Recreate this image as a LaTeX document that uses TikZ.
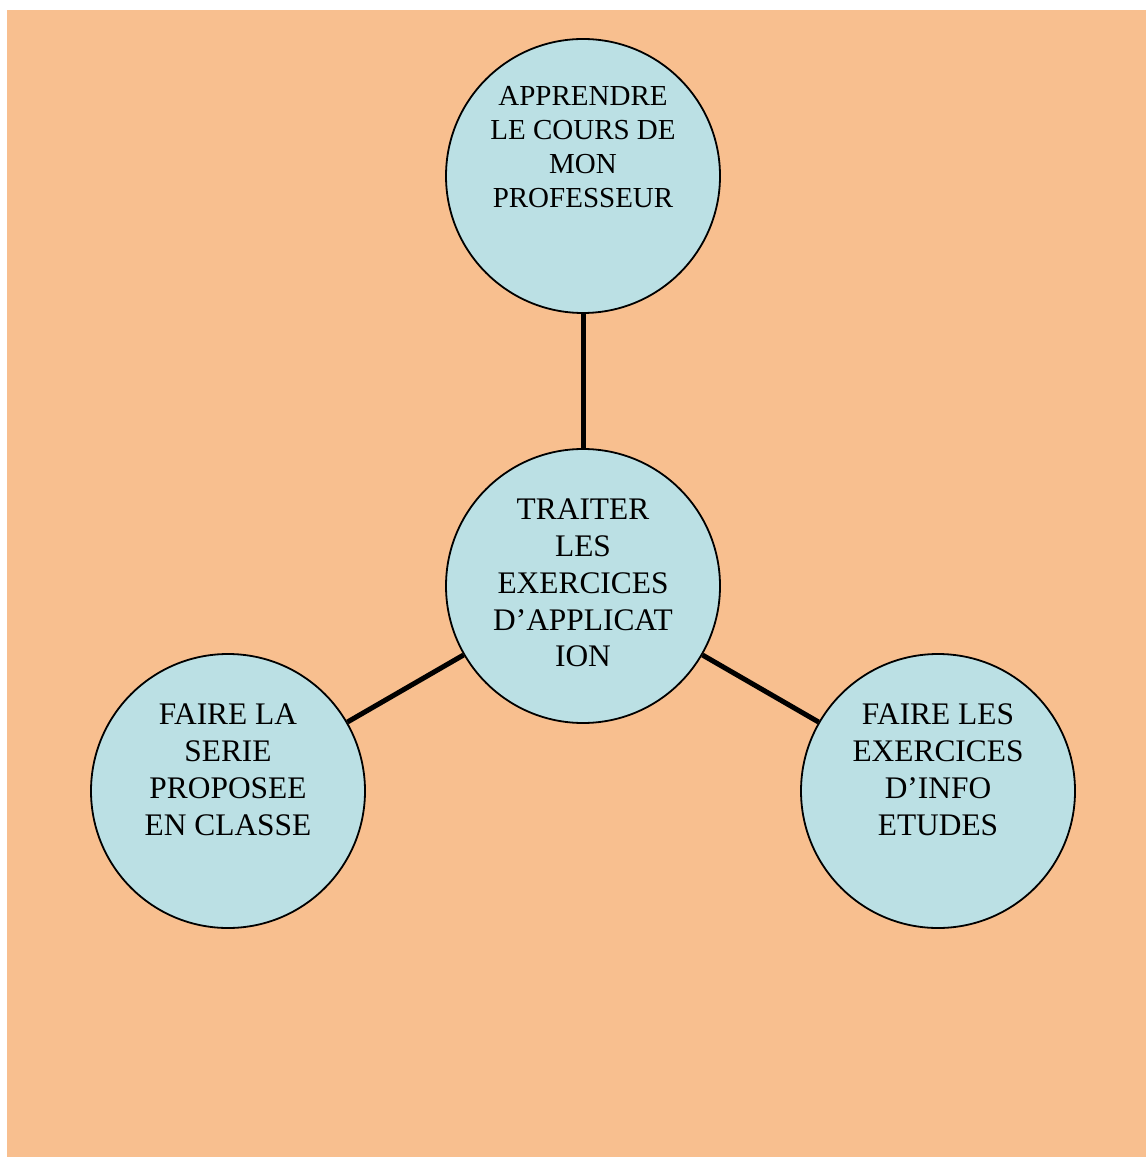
\documentclass[tikz,border=0pt]{standalone}
\usepackage{fontspec}
\setmainfont{Liberation Serif}
\usepackage{tikz}
\definecolor{peach}{RGB}{248,191,143}
\definecolor{paleblue}{RGB}{187,224,228}

\begin{document}
\begin{tikzpicture}[x=0.5pt, y=-0.5pt,
                    goalcirc/.style={circle, draw = black, line width = 0.9pt,
                    fill = paleblue, minimum size = 137pt, inner sep = 0pt},
                    goaltext/.style={align = center, inner sep = 0pt,
                    font = \fontsize{15.7}{18.4}\selectfont},
                    toptext/.style={goaltext, font = \fontsize{14.5}{17}\selectfont},
                    linkline/.style={line width = 2.5pt, draw = black}]

                    \useasboundingbox (0,0) rectangle (1146,1159);
                    \fill[peach] (7,10) rectangle (1146,1157);

                    \node[goalcirc] (top) at (583,176) {};
                    \node[goalcirc] (mid) at (583,586) {};
                    \node[goalcirc] (left) at (228,791) {};
                    \node[goalcirc] (right) at (938,791) {};

                    \node[toptext] (toplbl) at (583,147.3) {APPRENDRE\\LE COURS DE\\MON\\PROFESSEUR};
                    \node[goaltext] (midlbl) at (583,583) {TRAITER\\LES\\EXERCICES\\D’APPLICAT\\ION};
                    \node[goaltext] (leftlbl) at (228,769.6) {FAIRE LA\\SERIE\\PROPOSEE\\EN CLASSE};
                    \node[goaltext] (rightlbl) at (938,769.6) {FAIRE LES\\EXERCICES\\D’INFO\\ETUDES};

                    \draw[linkline] (top) -- (mid);
                    \draw[linkline] (mid) -- (left);
                    \draw[linkline] (mid) -- (right);
                    \end{tikzpicture}
\end{document}
